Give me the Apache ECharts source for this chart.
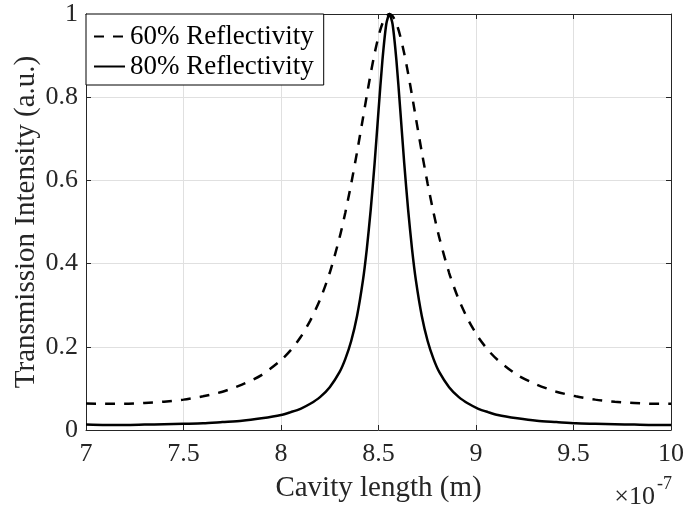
<!DOCTYPE html>
<html>
<head>
<meta charset="utf-8">
<script src="https://cdn.jsdelivr.net/npm/echarts@6/dist/echarts.min.js"></script>
<style>html,body{margin:0;padding:0;background:#fff;}#c{width:687px;height:508px;}</style>
</head>
<body>
<div id="c"></div>
<script>
// Cavity length in units of 1e-7 m
var cavityLength = [7.0, 7.1, 7.2, 7.3, 7.4, 7.5, 7.6, 7.7, 7.8, 7.9,
  8.0, 8.05, 8.1, 8.15, 8.2, 8.25, 8.3, 8.33, 8.36, 8.39, 8.42, 8.44, 8.46, 8.48, 8.50, 8.52, 8.54,
  8.556,
  8.572, 8.592, 8.612, 8.632, 8.652, 8.672, 8.692, 8.722, 8.752, 8.782, 8.812,
  8.862, 8.912, 8.962, 9.012, 9.062, 9.112, 9.212, 9.312, 9.412, 9.512, 9.612, 9.712, 9.812, 9.912, 10.0];

var refl60 = [0.064, 0.063, 0.063, 0.065, 0.068, 0.073, 0.081, 0.092, 0.109, 0.132,
  0.168, 0.192, 0.223, 0.263, 0.313, 0.378, 0.462, 0.523, 0.592, 0.668, 0.749, 0.804, 0.857, 0.905, 0.946, 0.977, 0.995,
  1.0,
  0.995, 0.977, 0.946, 0.905, 0.857, 0.804, 0.749, 0.668, 0.592, 0.523, 0.462,
  0.378, 0.313, 0.263, 0.223, 0.192, 0.168, 0.132, 0.109, 0.092, 0.081, 0.073, 0.068, 0.065, 0.063, 0.063];

var refl80 = [0.013, 0.012, 0.012, 0.013, 0.014, 0.015, 0.016, 0.019, 0.022, 0.028,
  0.036, 0.043, 0.051, 0.063, 0.079, 0.103, 0.139, 0.171, 0.214, 0.274, 0.359, 0.435, 0.529, 0.641, 0.767, 0.888, 0.976,
  1.0,
  0.976, 0.888, 0.767, 0.641, 0.529, 0.435, 0.359, 0.274, 0.214, 0.171, 0.139,
  0.103, 0.079, 0.063, 0.051, 0.043, 0.036, 0.028, 0.022, 0.019, 0.016, 0.015, 0.014, 0.013, 0.012, 0.012];

var seriesNames = ['60% Reflectivity', '80% Reflectivity'];
var xTitle = 'Cavity length (m)';
var yTitle = 'Transmission Intensity (a.u.)';

function pairs(xs, ys) { return xs.map(function (x, i) { return [x, ys[i]]; }); }

var FONT = "'Liberation Serif', 'Times New Roman', serif";
var AX = '#262626';
var chart = echarts.init(document.getElementById('c'), null, {renderer: 'canvas'});

var baseX = {
  type: 'value', min: 7, max: 10, interval: 0.5,
  axisLine: {show: true, onZero: false, lineStyle: {color: AX, width: 1}},
  axisTick: {show: true, inside: true, length: 5, lineStyle: {color: AX}},
  splitLine: {show: false}
};
var baseY = {
  type: 'value', min: 0, max: 1, interval: 0.2,
  axisLine: {show: true, onZero: false, lineStyle: {color: AX, width: 1}},
  axisTick: {show: true, inside: true, length: 5, lineStyle: {color: AX}},
  splitLine: {show: false}
};

chart.setOption({
  animation: false,
  backgroundColor: '#fff',
  grid: {left: 86, right: 15, top: 14, bottom: 77, containLabel: false},
  xAxis: [
    Object.assign({}, baseX, {
      position: 'bottom',
      name: xTitle, nameLocation: 'middle', nameGap: 44,
      nameTextStyle: {fontFamily: FONT, fontSize: 29, color: AX},
      axisLabel: {show: true, margin: 11, fontFamily: FONT, fontSize: 26, color: AX},
      splitLine: {show: true, lineStyle: {color: '#e0e0e0', width: 1}}
    }),
    Object.assign({}, baseX, {position: 'top', axisLabel: {show: false}})
  ],
  yAxis: [
    Object.assign({}, baseY, {
      position: 'left',
      name: yTitle, nameLocation: 'middle', nameGap: 45, nameMoveOverlap: false,
      nameTextStyle: {fontFamily: FONT, fontSize: 29, color: AX},
      axisLabel: {show: true, margin: 8, fontFamily: FONT, fontSize: 26, color: AX},
      splitLine: {show: true, lineStyle: {color: '#e0e0e0', width: 1}}
    }),
    Object.assign({}, baseY, {position: 'right', axisLabel: {show: false}})
  ],
  legend: {
    show: true, orient: 'vertical', left: 86, top: 14,
    padding: [9, 10, 5, 7], itemGap: 3, itemWidth: 31, itemHeight: 14,
    backgroundColor: '#fff', borderColor: '#000', borderWidth: 1,
    textStyle: {fontFamily: FONT, fontSize: 27, color: '#000'},
    itemStyle: {color: 'rgba(0,0,0,0)', borderWidth: 0},
    data: seriesNames
  },
  series: [
    {
      name: seriesNames[0], type: 'line', data: pairs(cavityLength, refl60),
      showSymbol: false, symbol: 'none', smooth: 0.25, clip: false,
      lineStyle: {color: '#000', width: 2.5, type: [10, 9]}, itemStyle: {color: '#000'}
    },
    {
      name: seriesNames[1], type: 'line', data: pairs(cavityLength, refl80),
      showSymbol: false, symbol: 'none', smooth: 0.25, clip: false,
      lineStyle: {color: '#000', width: 2.5, type: 'solid'}, itemStyle: {color: '#000'}
    }
  ],
  graphic: [
    {type: 'text', x: 655, y: 497, style: {text: '×10', fontFamily: FONT, fontSize: 26, fill: AX, align: 'right', verticalAlign: 'middle'}},
    {type: 'text', x: 657, y: 484, style: {text: '-7', fontFamily: FONT, fontSize: 18, fill: AX, align: 'left', verticalAlign: 'middle'}}
  ]
});
</script>
</body>
</html>
